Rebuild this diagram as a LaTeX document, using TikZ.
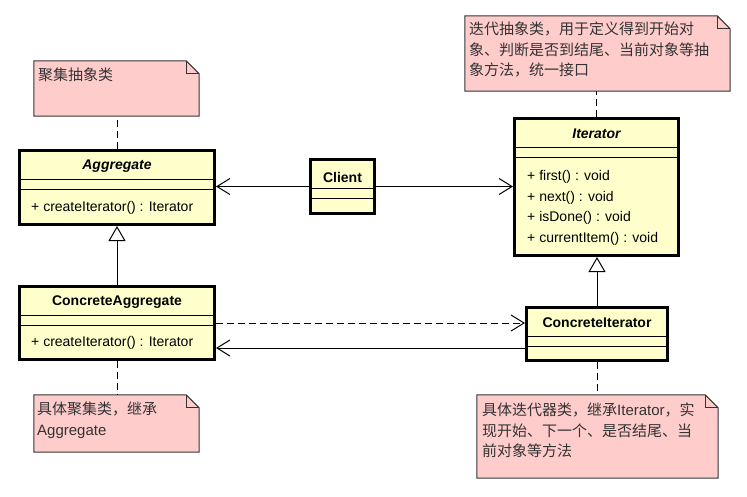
\documentclass[tikz,border=0pt]{standalone}
\usepackage{fontspec}
\setmainfont{Liberation Sans}
\newfontfamily\cjk{Noto Sans CJK SC}
\usepackage{tikz}
\usetikzlibrary{calc,arrows.meta,positioning}

\definecolor{classbg}{RGB}{255,255,204}
\definecolor{notebg}{RGB}{255,204,204}
\newcommand\clsfont{\fontsize{14}{20.5}\selectfont}
\newcommand\umlnotefont{\fontsize{15}{20.5}\selectfont}

\tikzset{
  cls/.style={draw=black,line width=3pt,fill=classbg,inner sep=0pt},
  note/.style={inner sep=0pt},
  noteline/.style={draw=black!80,fill=notebg,line width=1pt,line join=miter},
  notetxt/.style={font=\umlnotefont\cjk,text=black!80,align=left,inner sep=0pt,anchor=north west},
  ttl/.style={font=\clsfont\bfseries,inner sep=0pt},
  op/.style={font=\clsfont,align=left,inner sep=0pt,anchor=west},
  assoc/.style={line width=1pt,-{Straight Barb[length=13pt,width=16pt,line width=1pt]}},
  dep/.style={assoc,dash pattern=on 7pt off 4pt},
  inherit/.style={line width=1pt,-{Triangle[length=15pt,width=17pt,fill=white,line width=1pt]}},
  anchorline/.style={line width=1pt,dash pattern=on 7pt off 4pt}
}

\begin{document}
\begin{tikzpicture}[x=1pt,y=-1pt]
   \useasboundingbox (0,0) rectangle (747,496);

   %notes
   \node[note,minimum width=165,minimum height=55] (n1) at (116.5,88.5) {};
   \node[note,minimum width=265,minimum height=75] (n2) at (597.5,53.5) {};
   \node[note,minimum width=165,minimum height=57] (n3) at (116.5,423.5) {};
   \node[note,minimum width=241,minimum height=83] (n4) at (597.5,436.5) {};
   \foreach \n in {n1,n2,n3,n4} {
     \draw[noteline] (\n.south west) -- (\n.north west) -- ($(\n.north east)+(-13,0)$)
        -- ($(\n.north east)+(0,13)$) -- (\n.south east) -- cycle;
     \draw[noteline,fill=none] ($(\n.north east)+(-13,0)$) -- ++(0,13) -- ++(13,0);
   }
   \node[notetxt] (n1t) at (38,68) {聚集抽象类};
   \node[notetxt] (n2t) at (469,22) {迭代抽象类，用于定义得到开始对\\象、判断是否到结尾、当前对象等抽\\象方法，统一接口};
   \node[notetxt] (n3t) at (37,402) {具体聚集类，继承\\{\rmfamily Aggregate}};
   \node[notetxt] (n4t) at (482,403) {具体迭代器类，继承{\rmfamily Iterator}，实\\现开始、下一个、是否结尾、当\\前对象等方法};

   %classes
   \node[cls,minimum width=195,minimum height=74] (agg) at (117,187.5) {};
   \node[cls,minimum width=164,minimum height=137] (iter) at (596.5,187) {};
   \node[cls,minimum width=64,minimum height=54] (client) at (342.5,186.5) {};
   \node[cls,minimum width=195,minimum height=73] (cagg) at (117,323) {};
   \node[cls,minimum width=141,minimum height=53] (citer) at (597,334) {};
   \foreach \c in {agg,iter,client,cagg,citer} {
     \draw[line width=1pt] ($(\c.north west)+(1.5,30)$) -- ($(\c.north east)+(-1.5,30)$);
     \draw[line width=1pt] ($(\c.north west)+(1.5,40)$) -- ($(\c.north east)+(-1.5,40)$);
   }

   \node[ttl,font=\clsfont\bfseries\itshape] (aggt) at (117,166) {Aggregate};
   \node[op] (aggo) at (31,208) {+ createIterator() : Iterator};
   \node[ttl,font=\clsfont\bfseries\itshape] (itert) at (596.5,134) {Iterator};
   \node[op] (itero) at (527,208) {+ first() : void\\+ next() : void\\+ isDone() : void\\+ currentItem() : void};
   \node[ttl] (clientt) at (342.5,177) {Client};
   \node[ttl] (caggt) at (117,302) {ConcreteAggregate};
   \node[op] (caggo) at (31,343) {+ createIterator() : Iterator};
   \node[ttl] (citert) at (597,323) {ConcreteIterator};

   %connectors
   \coordinate (back) at ($(citer.west)+(0,14)$);
   \draw[assoc] (client.west) -- (client.west -| agg.east);
   \draw[assoc] (client.east) -- (client.east -| iter.west);
   \draw[inherit] (cagg.north) -- (agg.south);
   \draw[inherit] (citer.north) -- (citer.north |- iter.south);
   \draw[dep] (cagg.east |- citert) -- (citer.west |- citert);
   \draw[assoc] (back) -- (back -| cagg.east);

   \draw[anchorline] (agg.north) -- (agg.north |- n1.south);
   \draw[anchorline] (iter.north) -- (iter.north |- n2.south);
   \draw[anchorline] (cagg.south) -- (cagg.south |- n3.north);
   \draw[anchorline] (citer.south) -- (citer.south |- n4.north);
\end{tikzpicture}
\end{document}
